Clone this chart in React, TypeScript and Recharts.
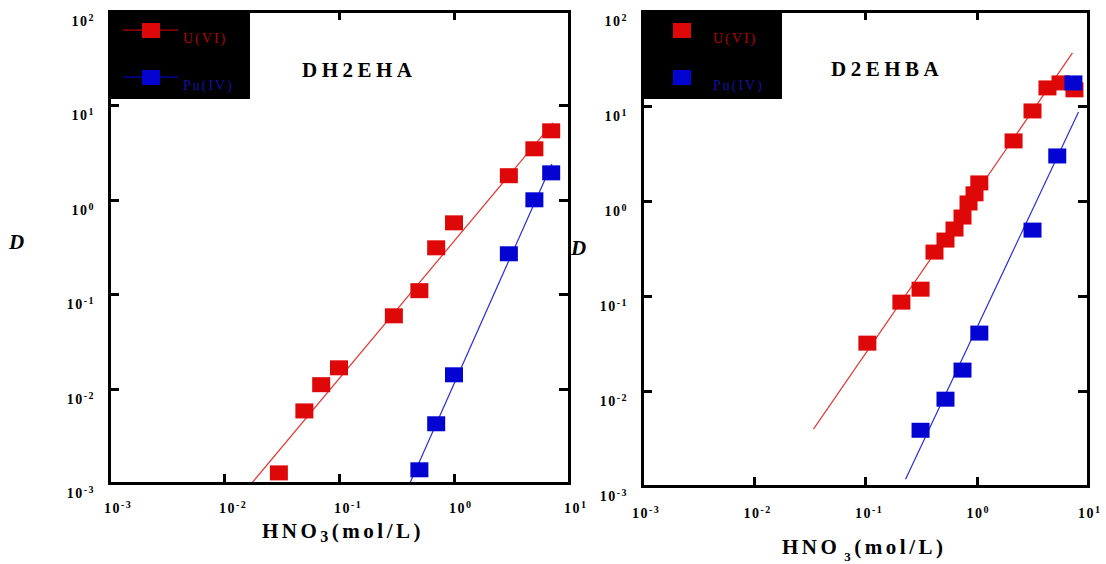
import React from 'react';
import { ScatterChart, Scatter, XAxis, YAxis, Legend } from 'recharts';

const SERIF = '"Liberation Serif", "Times New Roman", Times, serif';
const RED = '#de0808';
const BLUE = '#0404d2';
const RED_LINE = '#e83434';
const BLUE_LINE = '#2a2ae6';
const INK = '#000';
const T = 3; // frame / tick thickness

const X_TICKS = [0.001, 0.01, 0.1, 1, 10];
const Y_TICKS = [0.001, 0.01, 0.1, 1, 10, 100];
const X_DOMAIN = [0.001, 10];
const Y_DOMAIN = [0.001, 100];

const SERIES_NAMES = ['U(VI)', 'Pu(IV)'];

// DH2EHA (left panel)
const dh2ehaU_HNO3 = [0.03, 0.05, 0.07, 0.1, 0.3, 0.5, 0.7, 1, 3, 5, 7];
const dh2ehaU_D = [0.00128, 0.0058, 0.011, 0.0166, 0.059, 0.109, 0.31, 0.57, 1.8, 3.47, 5.38];
const dh2ehaPu_HNO3 = [0.5, 0.7, 1, 3, 5, 7];
const dh2ehaPu_D = [0.00138, 0.00424, 0.014, 0.268, 1.0, 1.93];
const dh2ehaU_fitX = [0.0175, 7.26];
const dh2ehaU_fitD = [0.001, 6.54];
const dh2ehaPu_fitX = [0.414, 7.1];
const dh2ehaPu_fitD = [0.001, 2.4];

// D2EHBA (right panel)
const d2ehbaU_HNO3 = [0.105, 0.212, 0.315, 0.42, 0.527, 0.635, 0.749, 0.848, 0.96, 1.06, 2.15, 3.18, 4.33, 5.67, 7.56];
const d2ehbaU_D = [0.0319, 0.0862, 0.118, 0.29, 0.388, 0.507, 0.678, 0.953, 1.19, 1.55, 4.29, 8.87, 15.5, 17.5, 14.8];
const d2ehbaPu_HNO3 = [0.315, 0.527, 0.749, 1.06, 3.18, 5.3, 7.4];
const d2ehbaPu_D = [0.00386, 0.0082, 0.0166, 0.0407, 0.494, 2.98, 17.5];
const d2ehbaU_fitX = [0.0345, 7.26];
const d2ehbaU_fitD = [0.00397, 36.3];
const d2ehbaPu_fitX = [0.231, 8.22];
const d2ehbaPu_fitD = [0.00118, 8.67];

const zip = (xs: number[], ys: number[]) => xs.map((x, i) => ({ x, y: ys[i] }));

const square = (color: string) => (p: any) => (
    <rect x={p.cx - 9} y={p.cy - 7.5} width={18} height={15} fill={color} />
);
const noDot = () => <g />;

const expOf = (v: number) => Math.round(Math.log10(v));

const makeXTick = (dx: number, dy: number) => (props: any) => (
    <text x={Number(props.x) + dx} y={Number(props.y) + dy} fontFamily={SERIF} fontWeight="bold" fontSize={14} letterSpacing={1.5} fill={INK}>
        10<tspan fontSize={10} dy={-5}>{expOf(props.payload.value)}</tspan>
    </text>
);

const makeYTick = (gap: number) => (props: any) => (
    <text x={Number(props.x) - gap} y={Number(props.y) + 15} textAnchor="end" fontFamily={SERIF} fontWeight="bold" fontSize={14} letterSpacing={1.5} fill={INK}>
        10<tspan fontSize={10} dy={-5}>{expOf(props.payload.value)}</tspan>
    </text>
);

// frame plus inward tick marks on all four sides, as plain boxes
// (decades are evenly spaced on the log axes)
function Frame({ x, y, w, h }: { x: number; y: number; w: number; h: number }) {
    const d = Math.floor(T / 2);
    const xs = X_TICKS.map((_, i) => Math.round(x + (i * w) / (X_TICKS.length - 1)));
    const ys = Y_TICKS.map((_, i) => Math.round(y + h - (i * h) / (Y_TICKS.length - 1)));
    const bar = (key: string, left: number, top: number, width: number, height: number) => (
        <div key={key} style={{ position: 'absolute', left, top, width, height, background: INK }} />
    );
    return (
        <>
            {bar('t', x - d, y - d, w + T, T)}
            {bar('b', x - d, y + h - d, w + T, T)}
            {bar('l', x - d, y - d, T, h + T)}
            {bar('r', x + w - d, y - d, T, h + T)}
            {xs.map((tx) => bar(`xb${tx}`, tx - d, y + h - 9, T, 9))}
            {xs.map((tx) => bar(`xt${tx}`, tx - d, y, T, 9))}
            {ys.map((ty) => bar(`yl${ty}`, x, ty - d, 10, T))}
            {ys.map((ty) => bar(`yr${ty}`, x + w - 10, ty - d, 10, T))}
        </>
    );
}

function LegendBox({ withLines, textX }: { withLines: boolean; textX: number }) {
    const colors = [RED, BLUE];
    const textColors = ['#b00000', '#1010a0'];
    const rowsY = [18, 65];
    return (
        <svg width={140} height={86} style={{ display: 'block' }}>
            <rect x={0} y={0} width={140} height={86} fill="#000" />
            {SERIES_NAMES.map((name, i) => (
                <g key={name}>
                    {withLines && (
                        <rect x={13} y={rowsY[i] - 1.5} width={55} height={1.2} fill={i === 0 ? '#c00000' : '#0000c0'} />
                    )}
                    <rect x={withLines ? 32 : 31} y={rowsY[i] - 8} width={18} height={15} fill={colors[i]} />
                    <text x={textX} y={rowsY[i] + 12} fontFamily={SERIF} fontSize={14} letterSpacing={2} fill={textColors[i]}>
                        {name}
                    </text>
                </g>
            ))}
        </svg>
    );
}

interface PanelProps {
    left: number;
    width: number;
    margin: { top: number; right: number; bottom: number; left: number };
    yAxisWidth: number;
    xdx: number;
    xdy: number;
    uData: { x: number; y: number }[];
    puData: { x: number; y: number }[];
    uFit: { x: number; y: number }[];
    puFit: { x: number; y: number }[];
    legendLeft: number;
    legendLines: boolean;
    legendTextX: number;
}

function Panel(p: PanelProps) {
    return (
        <div style={{ position: 'absolute', left: p.left, top: 0 }}>
            <ScatterChart width={p.width} height={564} margin={p.margin}>
                <XAxis
                    type="number"
                    dataKey="x"
                    scale="log"
                    domain={X_DOMAIN}
                    ticks={X_TICKS}
                    allowDataOverflow
                    axisLine={false}
                    tickLine={false}
                    tickSize={0}
                    tickMargin={0}
                    height={40}
                    interval={0}
                    tick={makeXTick(p.xdx, p.xdy)}
                />
                <YAxis
                    type="number"
                    dataKey="y"
                    scale="log"
                    domain={Y_DOMAIN}
                    ticks={Y_TICKS}
                    allowDataOverflow
                    axisLine={false}
                    tickLine={false}
                    tickSize={0}
                    tickMargin={0}
                    width={p.yAxisWidth}
                    interval={0}
                    tick={makeYTick(14)}
                />
                <Scatter data={p.uFit} line={{ stroke: RED_LINE, strokeWidth: 1.2 }} shape={noDot} legendType="none" isAnimationActive={false} />
                <Scatter data={p.puFit} line={{ stroke: BLUE_LINE, strokeWidth: 1.2 }} shape={noDot} legendType="none" isAnimationActive={false} />
                <Scatter name={SERIES_NAMES[0]} data={p.uData} fill={RED} shape={square(RED)} isAnimationActive={false} />
                <Scatter name={SERIES_NAMES[1]} data={p.puData} fill={BLUE} shape={square(BLUE)} isAnimationActive={false} />
                <Legend
                    layout="horizontal"
                    verticalAlign="middle"
                    align="center"
                    wrapperStyle={{ position: 'absolute', left: p.legendLeft, top: 13, width: 140, height: 86 }}
                    content={() => <LegendBox withLines={p.legendLines} textX={p.legendTextX} />}
                />
            </ScatterChart>
        </div>
    );
}

export default function App() {
    const textStyle = { fontFamily: SERIF, fontWeight: 'bold' as const };
    return (
        <div style={{ position: 'absolute', left: 0, top: 0, width: 1106, height: 564, background: '#fff', overflow: 'hidden' }}>
            <Panel
                left={0}
                width={600}
                margin={{ top: 11, right: 31, bottom: 41, left: 49 }}
                yAxisWidth={60}
                xdx={-5}
                xdy={30}
                uData={zip(dh2ehaU_HNO3, dh2ehaU_D)}
                puData={zip(dh2ehaPu_HNO3, dh2ehaPu_D)}
                uFit={zip(dh2ehaU_fitX, dh2ehaU_fitD)}
                puFit={zip(dh2ehaPu_fitX, dh2ehaPu_fitD)}
                legendLeft={110}
                legendLines
                legendTextX={73}
            />
            <Panel
                left={580}
                width={526}
                margin={{ top: 11, right: 18, bottom: 38, left: 22 }}
                yAxisWidth={40}
                xdx={-10}
                xdy={32}
                uData={zip(d2ehbaU_HNO3, d2ehbaU_D)}
                puData={zip(d2ehbaPu_HNO3, d2ehbaPu_D)}
                uFit={zip(d2ehbaU_fitX, d2ehbaU_fitD)}
                puFit={zip(d2ehbaPu_fitX, d2ehbaPu_fitD)}
                legendLeft={62}
                legendLines={false}
                legendTextX={71}
            />
            <Frame x={109} y={11} w={460} h={472} />
            <Frame x={642} y={11} w={446} h={475} />
            <svg width={1106} height={564} style={{ position: 'absolute', left: 0, top: 0, pointerEvents: 'none' }}>
                <text x={302} y={77} fontSize={21} letterSpacing={4.5} style={textStyle}>DH2EHA</text>
                <text x={831} y={76} fontSize={21} letterSpacing={4.5} style={textStyle}>D2EHBA</text>
                <text x={9} y={249} fontSize={21} fontStyle="italic" style={textStyle}>D</text>
                <text x={571} y={255} fontSize={21} fontStyle="italic" style={textStyle}>D</text>
                <text x={262} y={538} fontSize={21} letterSpacing={3.5} style={textStyle}>
                    HNO<tspan fontSize={16} dy={4}>3</tspan><tspan dy={-4}>(mol/L)</tspan>
                </text>
                <text x={782} y={554} fontSize={21} letterSpacing={3.5} style={textStyle}>
                    HNO<tspan fontSize={13} dy={7} dx={4}>3</tspan><tspan dy={-7}>(mol/L)</tspan>
                </text>
            </svg>
        </div>
    );
}
